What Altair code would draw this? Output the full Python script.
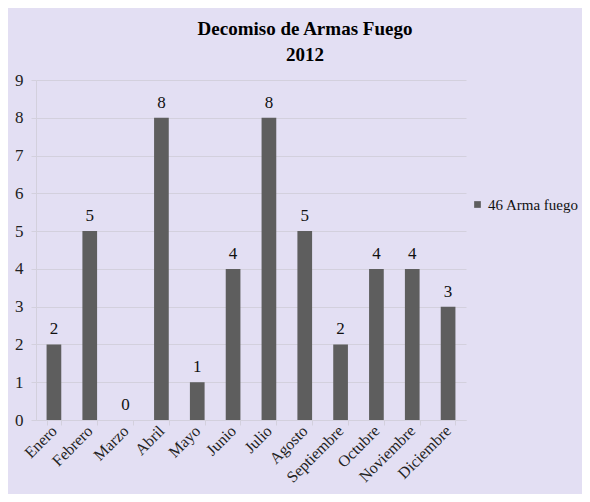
import altair as alt
import pandas as pd

meses = ["Enero", "Febrero", "Marzo", "Abril", "Mayo", "Junio", "Julio",
         "Agosto", "Septiembre", "Octubre", "Noviembre", "Diciembre"]
valores = [2, 5, 0, 8, 1, 4, 8, 5, 2, 4, 4, 3]
serie = "46 Arma fuego"
y_ticks = [0, 1, 2, 3, 4, 5, 6, 7, 8, 9]

df = pd.DataFrame({"mes": meses, "valor": valores, "serie": [serie] * len(meses)})

FONT = "Liberation Serif"
BAR = "#5E5E5E"
GRID = "#D3D0DD"

x_enc = alt.X("mes:N", sort=meses, title=None,
              scale=alt.Scale(paddingInner=0.59, paddingOuter=0.295),
              axis=alt.Axis(labelAngle=-45, labelFont=FONT, labelFontSize=16,
                            labelColor="#222222", tickBand="extent", tickSize=5,
                            tickColor=GRID, domainColor=GRID, labelPadding=3,
                            labelAlign="right", labelBaseline="middle"))
y_enc = alt.Y("valor:Q", title=None,
              scale=alt.Scale(domain=[0, 9], nice=False),
              axis=alt.Axis(values=y_ticks, labelFont=FONT, labelFontSize=17,
                            labelColor="#222222", gridColor=GRID, tickColor=GRID,
                            domainColor=GRID, tickSize=5, labelPadding=8,
                            labelOverlap=False))

bars = alt.Chart(df).mark_bar().encode(
    x=x_enc,
    y=y_enc,
    color=alt.Color("serie:N", scale=alt.Scale(range=[BAR]),
                    legend=alt.Legend(title=None, orient="none", legendX=434,
                                      legendY=117, symbolType="square",
                                      symbolSize=45, labelFont=FONT,
                                      labelFontSize=15, labelColor="#111111",
                                      symbolStrokeWidth=0, labelOffset=3)),
)

labels = alt.Chart(df).mark_text(font=FONT, fontSize=17, color="#111111",
                                 baseline="bottom", dy=-6).encode(
    x=x_enc,
    y=y_enc,
    text=alt.Text("valor:Q"),
)

chart = (bars + labels).properties(
    width=430,
    height=340,
    autosize=alt.AutoSizeParams(type="none"),
    padding={"left": 28, "top": 72, "right": 116, "bottom": 74},
    background="#E3DFF3",
    title=alt.TitleParams(text=["Decomiso de Armas Fuego", "2012"],
                          font=FONT, fontSize=19, fontWeight="bold",
                          color="#000000", anchor="middle", dx=54,
                          lineHeight=26, offset=6),
).configure_view(stroke=None)

chart.save("out.html", embed_options={"renderer": "svg", "actions": False})
